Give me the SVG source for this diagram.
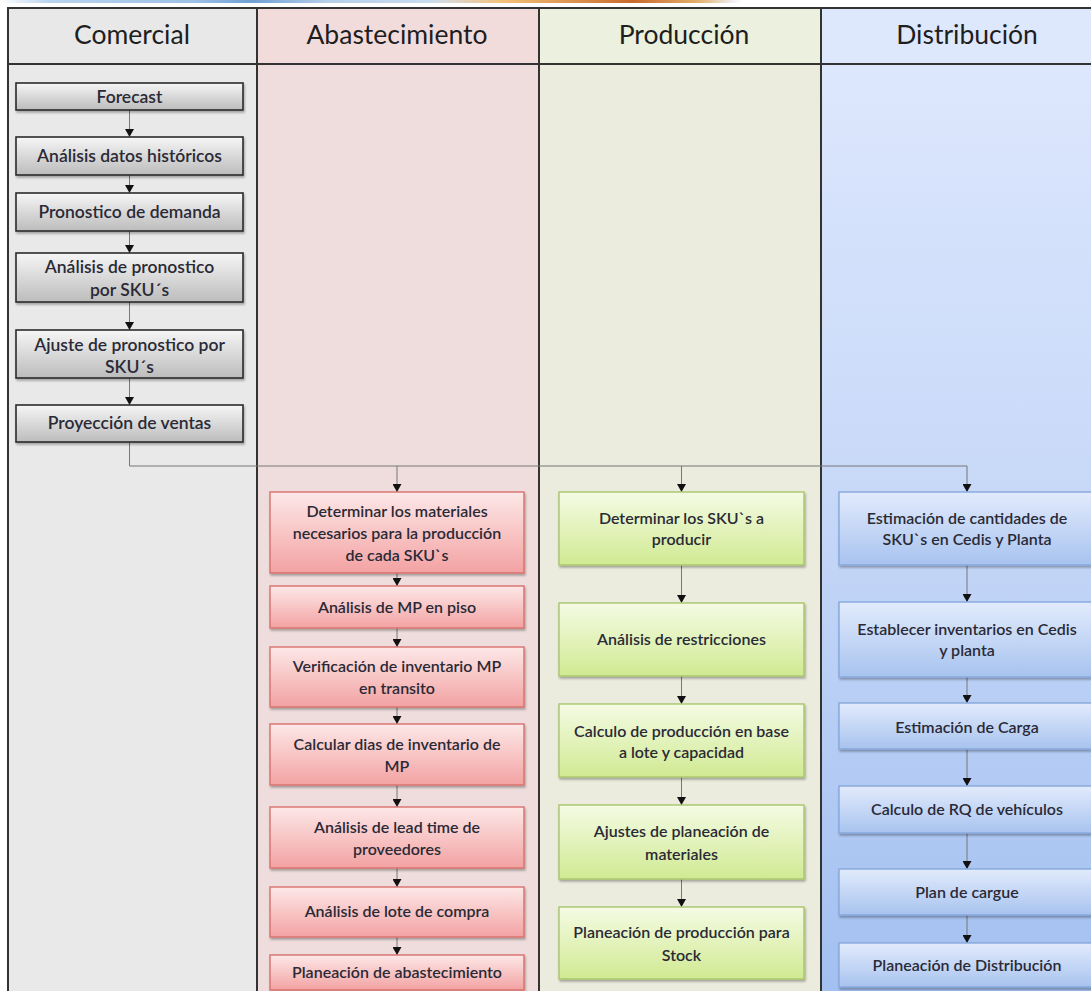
<svg xmlns="http://www.w3.org/2000/svg" width="1091" height="991" viewBox="0 0 1091 991">
  <defs>
    <linearGradient id="stripGrad" x1="0" y1="0" x2="1" y2="0">
      <stop offset="0" stop-color="#ffffff"/>
      <stop offset="0.045" stop-color="#b9d3ee"/>
      <stop offset="0.18" stop-color="#9cc0e6"/>
      <stop offset="0.23" stop-color="#6f9fd4"/>
      <stop offset="0.3" stop-color="#b5cfe9"/>
      <stop offset="0.39" stop-color="#c8dbef"/>
      <stop offset="0.41" stop-color="#d9d9d9"/>
      <stop offset="0.46" stop-color="#f3c27a"/>
      <stop offset="0.58" stop-color="#c86a2e"/>
      <stop offset="0.64" stop-color="#e3b06c"/>
      <stop offset="0.67" stop-color="#ececec"/>
      <stop offset="0.68" stop-color="#ffffff"/>
    </linearGradient>
    <linearGradient id="distBody" x1="0" y1="0" x2="0" y2="1">
      <stop offset="0" stop-color="#dde7fd"/>
      <stop offset="0.45" stop-color="#c8d9f8"/>
      <stop offset="1" stop-color="#a3c0f1"/>
    </linearGradient>
    <linearGradient id="grayBox" x1="0" y1="0" x2="0" y2="1">
      <stop offset="0" stop-color="#f6f6f6"/>
      <stop offset="1" stop-color="#bcbcbc"/>
    </linearGradient>
    <linearGradient id="redBox" x1="0" y1="0" x2="0" y2="1">
      <stop offset="0" stop-color="#fde8e8"/>
      <stop offset="1" stop-color="#f3a2a2"/>
    </linearGradient>
    <linearGradient id="greenBox" x1="0" y1="0" x2="0" y2="1">
      <stop offset="0" stop-color="#f5fbe4"/>
      <stop offset="1" stop-color="#d0ea92"/>
    </linearGradient>
    <linearGradient id="blueBox" x1="0" y1="0" x2="0" y2="1">
      <stop offset="0" stop-color="#e2ebfc"/>
      <stop offset="1" stop-color="#a8c3ef"/>
    </linearGradient>
    <filter id="shadow" x="-5%" y="-10%" width="115%" height="130%">
      <feDropShadow dx="1" dy="2" stdDeviation="1.2" flood-color="#000" flood-opacity="0.3"/>
    </filter>
    <marker id="arrow" viewBox="0 0 8 9" refX="8" refY="4.5" markerWidth="8" markerHeight="9" markerUnits="userSpaceOnUse" orient="auto">
      <path d="M0,0 L8,4.5 L0,9 z" fill="#111"/>
    </marker>
  </defs>
  <style>
    .hdr { font-family: "Lato", "Liberation Sans", sans-serif; font-size: 26.5px; fill: #1e1e1e; text-anchor: middle; }
    .lbl { font-family: "Lato", "Liberation Sans", sans-serif; font-size: 16px; font-weight: 600; fill: #2a2a36; text-anchor: middle; }
    .lbl.big { font-size: 17.5px; }
    .grid { stroke: #333; stroke-width: 2; fill: none; }
    .conn { stroke: #777; stroke-width: 1; fill: none; marker-end: url(#arrow); }
    .gbox { fill: url(#grayBox); stroke: #2a2a2a; stroke-width: 1.6; filter: url(#shadow); }
    .rbox { fill: url(#redBox); stroke: #d8706c; stroke-width: 1.4; filter: url(#shadow); }
    .vbox { fill: url(#greenBox); stroke: #a8c66c; stroke-width: 1.4; filter: url(#shadow); }
    .bbox { fill: url(#blueBox); stroke: #86a7dc; stroke-width: 1.4; filter: url(#shadow); }
  </style>

  <!-- page background and thin strip of the picture above -->
  <rect x="0" y="0" width="1091" height="991" fill="#ffffff"/>
  <rect x="0" y="0" width="1091" height="3" fill="url(#stripGrad)"/>

  <!-- swim-lane table -->
  <g id="lanes">
    <rect x="8" y="8" width="249" height="56" fill="#e8e8e8"/>
    <rect x="257" y="8" width="282" height="56" fill="#f2dcdb"/>
    <rect x="539" y="8" width="282" height="56" fill="#ebf1de"/>
    <rect x="821" y="8" width="270" height="56" fill="#dee8fc"/>
    <rect x="8" y="64" width="249" height="927" fill="#e9e9e9"/>
    <rect x="257" y="64" width="282" height="927" fill="#efdddd"/>
    <rect x="539" y="64" width="282" height="927" fill="#ebebde"/>
    <rect x="821" y="64" width="270" height="927" fill="url(#distBody)"/>
    <path class="grid" d="M8,992 V8 H1092 M8,64 H1092 M257,8 V992 M539,8 V992 M821,8 V992"/>
    <text class="hdr" x="132" y="44">Comercial</text>
    <text class="hdr" x="397" y="44">Abastecimiento</text>
    <text class="hdr" x="684" y="44">Producción</text>
    <text class="hdr" x="967" y="44">Distribución</text>
  </g>

  <!-- connectors -->
  <g id="connectors">
    <path class="conn" d="M129.5,110 V137"/>
    <path class="conn" d="M129.5,175 V193"/>
    <path class="conn" d="M129.5,231 V253"/>
    <path class="conn" d="M129.5,302 V330"/>
    <path class="conn" d="M129.5,378 V405"/>
    <path class="conn" d="M129.5,442 V466 H967 V492"/>
    <path class="conn" d="M397,466 V492"/>
    <path class="conn" d="M681.5,466 V492"/>

    <path class="conn" d="M397,573 V586"/>
    <path class="conn" d="M397,628 V647"/>
    <path class="conn" d="M397,707 V724"/>
    <path class="conn" d="M397,785 V807"/>
    <path class="conn" d="M397,868 V887"/>
    <path class="conn" d="M397,937 V955"/>

    <path class="conn" d="M681.5,565 V603"/>
    <path class="conn" d="M681.5,676 V704"/>
    <path class="conn" d="M681.5,777 V805"/>
    <path class="conn" d="M681.5,879 V907"/>

    <path class="conn" d="M967,565 V602"/>
    <path class="conn" d="M967,677 V703"/>
    <path class="conn" d="M967,749 V786"/>
    <path class="conn" d="M967,833 V869"/>
    <path class="conn" d="M967,915 V943"/>
  </g>

  <!-- Comercial -->
  <g id="c1"><rect class="gbox" x="16" y="83" width="227" height="27"/><text class="lbl big" x="129.5" y="103">Forecast</text></g>
  <g id="c2"><rect class="gbox" x="16" y="137" width="227" height="38"/><text class="lbl big" x="129.5" y="162">Análisis datos históricos</text></g>
  <g id="c3"><rect class="gbox" x="16" y="193" width="227" height="38"/><text class="lbl big" x="129.5" y="218">Pronostico de demanda</text></g>
  <g id="c4"><rect class="gbox" x="16" y="253" width="227" height="49"/><text class="lbl big" x="129.5" y="273">Análisis de pronostico<tspan x="129.5" dy="23">por SKU´s</tspan></text></g>
  <g id="c5"><rect class="gbox" x="16" y="330" width="227" height="48"/><text class="lbl big" x="129.5" y="351">Ajuste de pronostico por<tspan x="129.5" dy="22">SKU´s</tspan></text></g>
  <g id="c6"><rect class="gbox" x="16" y="405" width="227" height="37"/><text class="lbl big" x="129.5" y="429">Proyección de ventas</text></g>

  <!-- Abastecimiento -->
  <g id="a1"><rect class="rbox" x="270" y="492" width="254" height="81"/><text class="lbl" x="397" y="516.5">Determinar los materiales<tspan x="397" dy="22">necesarios para la producción</tspan><tspan x="397" dy="22">de cada SKU`s</tspan></text></g>
  <g id="a2"><rect class="rbox" x="270" y="586" width="254" height="42"/><text class="lbl" x="397" y="612.5">Análisis de MP en piso</text></g>
  <g id="a3"><rect class="rbox" x="270" y="647" width="254" height="60"/><text class="lbl" x="397" y="671.5">Verificación de inventario MP<tspan x="397" dy="22">en transito</tspan></text></g>
  <g id="a4"><rect class="rbox" x="270" y="724" width="254" height="61"/><text class="lbl" x="397" y="749.5">Calcular dias de inventario de<tspan x="397" dy="22">MP</tspan></text></g>
  <g id="a5"><rect class="rbox" x="270" y="807" width="254" height="61"/><text class="lbl" x="397" y="832.5">Análisis de lead time de<tspan x="397" dy="22">proveedores</tspan></text></g>
  <g id="a6"><rect class="rbox" x="270" y="887" width="254" height="50"/><text class="lbl" x="397" y="916.5">Análisis de lote de compra</text></g>
  <g id="a7"><rect class="rbox" x="270" y="955" width="254" height="35"/><text class="lbl" x="397" y="977.5">Planeación de abastecimiento</text></g>

  <!-- Producción -->
  <g id="p1"><rect class="vbox" x="559" y="492" width="245" height="73"/><text class="lbl" x="681.5" y="523.5">Determinar los SKU`s a<tspan x="681.5" dy="21">producir</tspan></text></g>
  <g id="p2"><rect class="vbox" x="559" y="603" width="245" height="73"/><text class="lbl" x="681.5" y="644.5">Análisis de restricciones</text></g>
  <g id="p3"><rect class="vbox" x="559" y="704" width="245" height="73"/><text class="lbl" x="681.5" y="736.5">Calculo de producción en base<tspan x="681.5" dy="21">a lote y capacidad</tspan></text></g>
  <g id="p4"><rect class="vbox" x="559" y="805" width="245" height="74"/><text class="lbl" x="681.5" y="836.5">Ajustes de planeación de<tspan x="681.5" dy="23">materiales</tspan></text></g>
  <g id="p5"><rect class="vbox" x="559" y="907" width="245" height="72"/><text class="lbl" x="681.5" y="937.5">Planeación de producción para<tspan x="681.5" dy="23">Stock</tspan></text></g>

  <!-- Distribución -->
  <g id="d1"><rect class="bbox" x="839" y="492" width="256" height="73"/><text class="lbl" x="967" y="523.5">Estimación de cantidades de<tspan x="967" dy="21">SKU`s en Cedis y Planta</tspan></text></g>
  <g id="d2"><rect class="bbox" x="839" y="602" width="256" height="75"/><text class="lbl" x="967" y="634.5">Establecer inventarios en Cedis<tspan x="967" dy="21">y planta</tspan></text></g>
  <g id="d3"><rect class="bbox" x="839" y="703" width="256" height="46"/><text class="lbl" x="967" y="732.5">Estimación de Carga</text></g>
  <g id="d4"><rect class="bbox" x="839" y="786" width="256" height="47"/><text class="lbl" x="967" y="814.5">Calculo de RQ de vehículos</text></g>
  <g id="d5"><rect class="bbox" x="839" y="869" width="256" height="46"/><text class="lbl" x="967" y="897.5">Plan de cargue</text></g>
  <g id="d6"><rect class="bbox" x="839" y="943" width="256" height="44"/><text class="lbl" x="967" y="970.5">Planeación de Distribución</text></g>
</svg>
